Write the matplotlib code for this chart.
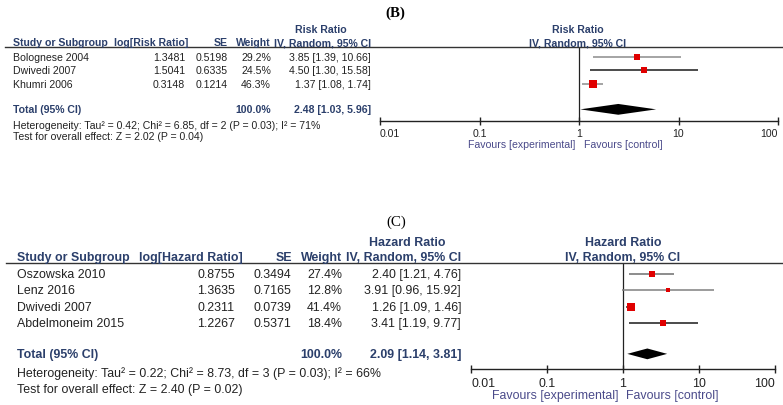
#!/usr/bin/env python3
"""Forest plots (B) risk ratio and (C) hazard ratio, RevMan style."""

import numpy as np
import matplotlib
matplotlib.use("Agg")
import matplotlib.pyplot as plt
from matplotlib.lines import Line2D

plt.rcParams['font.family'] = ['Liberation Sans', 'DejaVu Sans']

# ---- data: panel B (risk ratio) ----
b_studies = ['Bolognese 2004', 'Dwivedi 2007', 'Khumri 2006']
b_log = [1.3481, 1.5041, 0.3148]
b_se = [0.5198, 0.6335, 0.1214]
b_weight = [29.2, 24.5, 46.3]
b_est = [3.85, 4.50, 1.37]
b_lo = [1.39, 1.30, 1.08]
b_hi = [10.66, 15.58, 1.74]
b_total = (2.48, 1.03, 5.96)
b_het = 'Heterogeneity: Tau\u00b2 = 0.42; Chi\u00b2 = 6.85, df = 2 (P = 0.03); I\u00b2 = 71%'
b_test = 'Test for overall effect: Z = 2.02 (P = 0.04)'

# ---- data: panel C (hazard ratio) ----
c_studies = ['Oszowska 2010', 'Lenz 2016', 'Dwivedi 2007', 'Abdelmoneim 2015']
c_log = [0.8755, 1.3635, 0.2311, 1.2267]
c_se = [0.3494, 0.7165, 0.0739, 0.5371]
c_weight = [27.4, 12.8, 41.4, 18.4]
c_est = [2.40, 3.91, 1.26, 3.41]
c_lo = [1.21, 0.96, 1.09, 1.19]
c_hi = [4.76, 15.92, 1.46, 9.77]
c_total = (2.09, 1.14, 3.81)
c_het = 'Heterogeneity: Tau\u00b2 = 0.22; Chi\u00b2 = 8.73, df = 3 (P = 0.03); I\u00b2 = 66%'
c_test = 'Test for overall effect: Z = 2.40 (P = 0.02)'

tick_vals = [0.01, 0.1, 1, 10, 100]
tick_labels = ['0.01', '0.1', '1', '10', '100']

W, H = 783, 406
HEAD = '#2b3f6b'
TXT = '#222222'
FAV = '#4a4a8a'
RED = '#e00000'


def fx(x):
    return x / W


def fy(y):
    return 1 - y / H


def draw_panel(fig, studies, logv, se, weight, est, lo, hi, total, het, test,
               measure, logname, lay, ci_colors):
    fs = lay['fs']
    n = len(studies)
    step = lay['step']
    row0 = lay['row0']

    def rowy(i):
        return row0 + i * step

    # panel letter
    fig.text(fx(lay['letter'][0]), fy(lay['letter'][1]), lay['letter_txt'],
             family=['Liberation Serif', 'DejaVu Serif'], fontsize=10.8,
             fontweight=lay['letter_w'], ha='center', va='center', color='black')

    # table headers
    fig.text(fx(lay['top_c']), fy(lay['top_y']), measure, fontsize=fs,
             fontweight='bold', color=HEAD, ha='center', va='center')
    hy = fy(lay['head_y'])
    fig.text(fx(lay['study_x']), hy, 'Study or Subgroup', fontsize=fs,
             fontweight='bold', color=HEAD, ha='left', va='center')
    heads = [logname, 'SE', 'Weight', 'IV, Random, 95% CI']
    for h, xr in zip(heads, lay['head_r']):
        fig.text(fx(xr), hy, h, fontsize=fs, fontweight='bold', color=HEAD,
                 ha='right', va='center')
    fig.add_artist(Line2D([fx(lay['line_x0']), 1.0], [fy(lay['line_y'])] * 2,
                          color='#333333', lw=1.0, transform=fig.transFigure))

    # study rows
    for i in range(n):
        y = fy(rowy(i))
        cells = [f'{logv[i]:.4f}', f'{se[i]:.4f}', f'{weight[i]:.1f}%',
                 f'{est[i]:.2f} [{lo[i]:.2f}, {hi[i]:.2f}]']
        fig.text(fx(lay['study_x']), y, studies[i], fontsize=fs, color=TXT,
                 ha='left', va='center')
        for c, xr in zip(cells, lay['col_r']):
            fig.text(fx(xr), y, c, fontsize=fs, color=TXT, ha='right', va='center')

    # total row
    ty = n + 0.9
    fig.text(fx(lay['study_x']), fy(rowy(ty)), 'Total (95% CI)', fontsize=fs,
             fontweight='bold', color=HEAD, ha='left', va='center')
    fig.text(fx(lay['col_r'][2]), fy(rowy(ty)), f'{sum(weight):.1f}%', fontsize=fs,
             fontweight='bold', color=HEAD, ha='right', va='center')
    fig.text(fx(lay['col_r'][3]), fy(rowy(ty)),
             f'{total[0]:.2f} [{total[1]:.2f}, {total[2]:.2f}]', fontsize=fs,
             fontweight='bold', color=HEAD, ha='right', va='center')
    fig.text(fx(lay['study_x']), fy(lay['het_y']), het, fontsize=fs, color=TXT,
             ha='left', va='center')
    fig.text(fx(lay['study_x']), fy(lay['test_y']), test, fontsize=fs, color=TXT,
             ha='left', va='center')

    # plot header
    fig.text(fx(lay['plot_c']), fy(lay['top_y']), measure, fontsize=fs,
             fontweight='bold', color=HEAD, ha='center', va='center')
    fig.text(fx(lay['plot_c']), hy, 'IV, Random, 95% CI', fontsize=fs,
             fontweight='bold', color=HEAD, ha='center', va='center')

    # forest plot axes
    ax = fig.add_axes([fx(lay['ax_l']), fy(lay['axis_y']),
                       (lay['ax_r'] - lay['ax_l']) / W,
                       (lay['axis_y'] - lay['line_y']) / H])
    ax.set_xscale('log')
    ax.set_xlim(0.01, 100)
    ax.set_ylim((lay['axis_y'] - row0) / step, (lay['line_y'] - row0) / step)
    ax.patch.set_alpha(0)
    for s in ['top', 'right', 'left']:
        ax.spines[s].set_visible(False)
    ax.spines['bottom'].set_color('#222222')
    ax.spines['bottom'].set_linewidth(1.0)
    ax.set_yticks([])
    ax.set_xticks(tick_vals)
    ax.set_xticklabels(tick_labels)
    ax.xaxis.set_minor_locator(matplotlib.ticker.NullLocator())
    ax.tick_params(axis='x', direction='inout', length=6, width=1.0,
                   labelsize=fs, pad=lay['pad'], colors='#222222')
    labs = ax.get_xticklabels()
    labs[0].set_ha('left')
    labs[-1].set_ha('right')

    ax.axvline(1, color='#222222', lw=0.9)
    for i in range(n):
        ax.plot([lo[i], hi[i]], [i, i], color=ci_colors[i], lw=1.1,
                solid_capstyle='butt', clip_on=False)
        side = 1.2 * np.sqrt(weight[i]) * 0.72
        ax.plot(est[i], i, marker='s', ms=side, mew=0, color=RED, clip_on=False)
    dh = lay['dh']
    ax.fill([total[1], total[0], total[2], total[0]],
            [ty, ty - dh, ty, ty + dh], color='black', lw=0, clip_on=False)

    fig.text(fx(lay['fav_e']), fy(lay['fav_y']), 'Favours [experimental]',
             fontsize=fs, color=FAV, ha='right', va='center')
    fig.text(fx(lay['fav_c']), fy(lay['fav_y']), 'Favours [control]',
             fontsize=fs, color=FAV, ha='left', va='center')


def main():
    fig = plt.figure(figsize=(W / 100, H / 100), dpi=100, facecolor='white')

    lay_b = dict(fs=7.6, letter=(395, 13), letter_txt='(B)', letter_w='bold',
                 top_c=321, top_y=30, head_y=43, study_x=13,
                 head_r=[188, 228, 271, 371], col_r=[185, 228, 271, 371],
                 line_x0=5, line_y=48, row0=57.7, step=13.5,
                 het_y=126, test_y=137, plot_c=578,
                 ax_l=380, ax_r=778, axis_y=122, pad=2.0, dh=0.4,
                 fav_y=145, fav_e=575, fav_c=584)
    draw_panel(fig, b_studies, b_log, b_se, b_weight, b_est, b_lo, b_hi,
               b_total, b_het, b_test, 'Risk Ratio', 'log[Risk Ratio]', lay_b,
               ['#8c8c8c', '#1a1a1a', '#8c8c8c'])

    lay_c = dict(fs=8.9, letter=(396, 222.7), letter_txt='(C)', letter_w='normal',
                 top_c=407, top_y=242.7, head_y=258, study_x=17,
                 head_r=[243, 292, 342, 461], col_r=[235, 291, 342, 461],
                 line_x0=6, line_y=264, row0=275, step=16.3,
                 het_y=374, test_y=390, plot_c=623,
                 ax_l=471, ax_r=775, axis_y=370, pad=2.5, dh=0.33,
                 fav_y=395.7, fav_e=618, fav_c=626)
    draw_panel(fig, c_studies, c_log, c_se, c_weight, c_est, c_lo, c_hi,
               c_total, c_het, c_test, 'Hazard Ratio', 'log[Hazard Ratio]', lay_c,
               ['#6e6e6e', '#808080', '#333333', '#1a1a1a'])

    fig.savefig('out.png', dpi=100, facecolor='white')
    plt.close(fig)


if __name__ == "__main__":
    main()
